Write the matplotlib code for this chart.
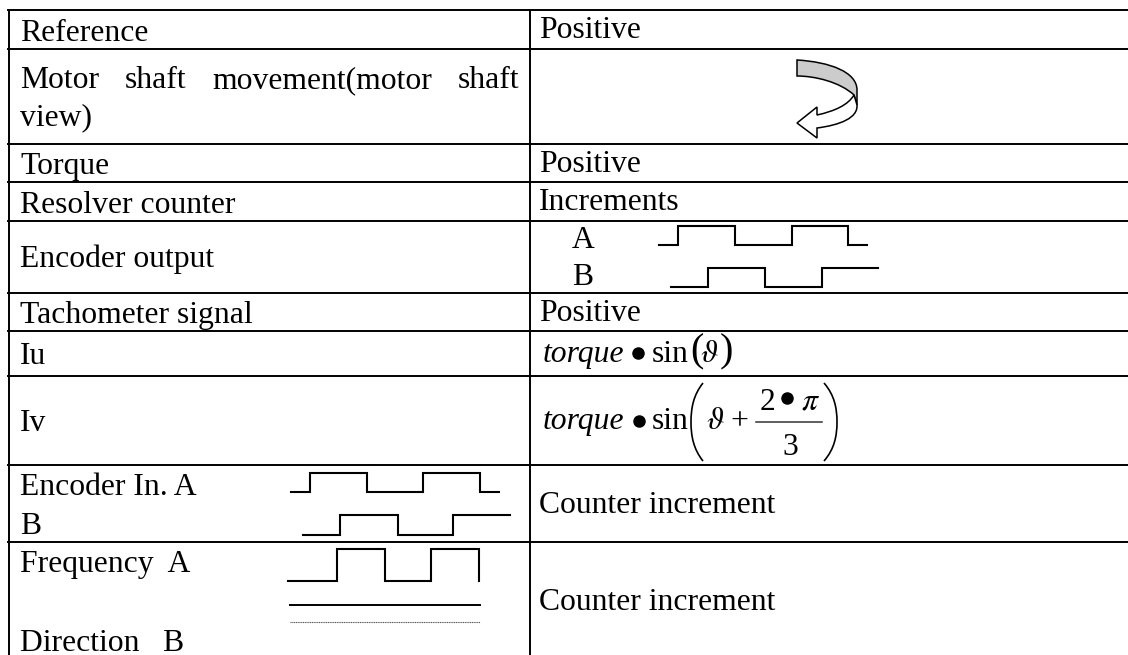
import matplotlib
matplotlib.use("Agg")
import matplotlib.pyplot as plt
from matplotlib.path import Path
from matplotlib.patches import PathPatch

plt.rcParams['font.family'] = ['Liberation Serif', 'DejaVu Serif']
plt.rcParams['mathtext.fontset'] = 'stix'

# table grid, there is no right border, the rows run off the page
row_lines = [10, 49, 144, 182, 221, 293, 331, 376, 465, 542]
col_lines = [9, 530]

# left column: text and baseline y
left_labels = ["Reference", "view)", "Torque", "Resolver counter", "Encoder output",
               "Tachometer signal", "Iu", "Iv", "Encoder In. A", "B",
               "Frequency  A", "Direction   B"]
left_base = [41, 125, 174, 213, 267, 323, 364, 431, 495, 534, 572, 651]

# justified first line of the motor shaft row
motor_words = ["Motor", "shaft", "movement(motor", "shaft"]
motor_x = [20, 125, 212, 458]

# right column
right_labels = ["Positive", "Positive", "Increments", "Positive",
                "Counter increment", "Counter increment"]
right_base = [38, 172, 210, 321, 513, 610]

# square waves: x of the edges, y of each level
enc_a_x = [659, 678, 735, 792, 848, 867]
enc_a_y = [245, 226, 245, 226, 245]
enc_b_x = [671, 708, 765, 822, 878]
enc_b_y = [287, 268, 287, 268]
in_a_x = [291, 310, 367, 423, 480, 499]
in_a_y = [492, 473, 492, 473, 492]
in_b_x = [303, 340, 398, 453, 510]
in_b_y = [535, 515, 535, 515]
freq_x = [288, 337, 385, 431, 479]
freq_y = [581, 549, 581, 549]
freq_end_y = 581


def wave(ax, xs, ys, end=None):
    px, py = [xs[0]], [ys[0]]
    for i, y in enumerate(ys):
        px += [xs[i + 1], xs[i + 1]]
        py += [y, ys[i + 1] if i + 1 < len(ys) else y]
    if end is None:
        px = px[:-1]
        py = py[:-1]
    else:
        py[-1] = end
    ax.plot(px, py, color="black", lw=1.5, solid_joinstyle="miter")


def big_paren(ax, x_tip, x_belly, top, mid, bottom):
    p = Path([(x_tip, top), (x_belly + (x_tip - x_belly) * 0.2, top + 12), (x_belly, mid - 14), (x_belly, mid),
              (x_belly, mid + 14), (x_belly + (x_tip - x_belly) * 0.2, bottom - 12), (x_tip, bottom)],
             [1, 4, 4, 4, 4, 4, 4])
    ax.add_patch(PathPatch(p, fc="none", ec="black", lw=1.2))


fig = plt.figure(figsize=(11.28, 6.55), dpi=100)
ax = fig.add_axes([0, 0, 1, 1])
ax.set_xlim(0, 1128)
ax.set_ylim(655, 0)
ax.axis("off")

for y in row_lines:
    ax.plot([col_lines[0] - 1, 1128], [y, y], color="black", lw=1.4)
for x in col_lines:
    ax.plot([x, x], [row_lines[0], 655], color="black", lw=1.4)

fs = 22.8
for s, y in zip(left_labels, left_base):
    ax.text(20, y, s, fontsize=fs, va="baseline", ha="left")
for s, x in zip(motor_words, motor_x):
    ax.text(x, 88, s, fontsize=fs, va="baseline", ha="left")
for s, y in zip(right_labels, right_base):
    ax.text(539, y, s, fontsize=fs, va="baseline", ha="left")
ax.text(572, 248, "A", fontsize=fs, va="baseline")
ax.text(572, 285, "B", fontsize=fs, va="baseline")

# waveforms
wave(ax, enc_a_x, enc_a_y)
wave(ax, enc_b_x, enc_b_y)
wave(ax, in_a_x, in_a_y)
wave(ax, in_b_x, in_b_y)
wave(ax, freq_x, freq_y, end=freq_end_y)
ax.plot([290, 480], [605, 605], color="black", lw=1.4)
ax.plot([290, 480], [622, 622], color="#555555", lw=0.8, ls=(0, (1, 0.6)))

# curved arrow
gray = Path([(797, 60), (830, 62), (857, 72), (857, 90), (857, 105), (854, 95),
             (840, 82), (815, 76), (797, 76), (797, 60)],
            [1, 4, 4, 4, 2, 2, 4, 4, 4, 79])
white = Path([(857, 105), (858, 118), (840, 125), (817, 128), (817, 138), (797, 123),
              (817, 107), (817, 115), (835, 111), (848, 105), (854, 95), (857, 105)],
             [1, 4, 4, 4, 2, 2, 2, 2, 4, 4, 4, 79])
ax.add_patch(PathPatch(gray, fc="#cccccc", ec="black", lw=1.1))
ax.add_patch(PathPatch(white, fc="white", ec="black", lw=1.1))

# formulas
ax.text(543, 362, "torque", fontsize=fs, style="italic", va="baseline")
ax.plot([638], [353], "o", color="black", ms=8)
ax.text(652, 362, "sin", fontsize=fs, va="baseline")
ax.text(690, 361, "(", fontsize=29, va="baseline")
ax.text(700, 362, r"$\vartheta$", fontsize=fs, va="baseline")
ax.text(720, 361, ")", fontsize=29, va="baseline")

ax.text(543, 429, "torque", fontsize=fs, style="italic", va="baseline")
ax.plot([639], [421], "o", color="black", ms=8)
ax.text(652, 429, "sin", fontsize=fs, va="baseline")
big_paren(ax, 703, 691, 383, 422, 461)
ax.text(706, 429, r"$\vartheta$", fontsize=fs, va="baseline")
ax.text(730, 429, "+", fontsize=fs, va="baseline")
ax.text(760, 410, "2", fontsize=fs, va="baseline")
ax.plot([787], [398], "o", color="black", ms=8)
ax.text(801, 410, r"$\pi$", fontsize=fs, va="baseline")
ax.plot([756, 822], [422, 422], color="#333333", lw=1.1)
ax.text(782, 455, "3", fontsize=fs, va="baseline")
big_paren(ax, 824, 837, 383, 422, 461)

fig.savefig("out.png", dpi=100)
